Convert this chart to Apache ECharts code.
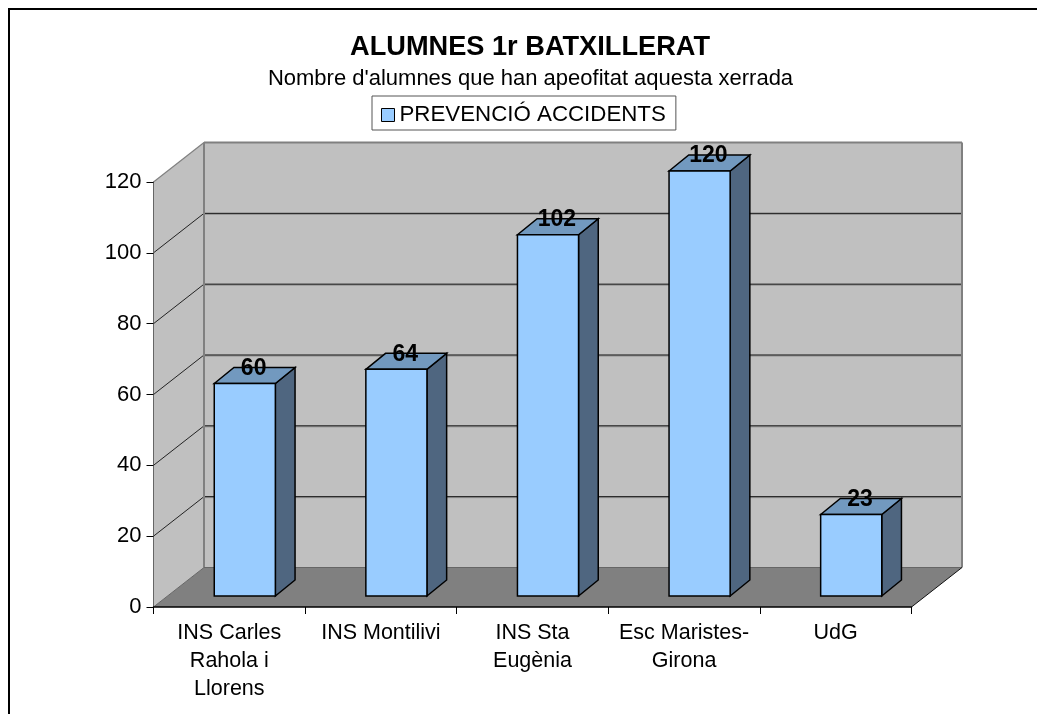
<!DOCTYPE html>
<html>
<head>
<meta charset="utf-8">
<style>html,body{margin:0;padding:0;background:#fff;overflow:hidden}#c{position:absolute;left:0;top:0;width:1037px;height:714px}
#f{position:absolute;left:8px;top:8px;width:1040px;height:730px;border:2px solid #000;box-sizing:border-box}</style>
<script src="https://cdn.jsdelivr.net/npm/echarts@6/dist/echarts.min.js"></script>
</head>
<body>
<div id="f"></div>
<div id="c"></div>
<script>
const titleText = 'ALUMNES 1r BATXILLERAT';
const subtitleText = "Nombre d'alumnes que han apeofitat aquesta xerrada";
const seriesName = 'PREVENCIÓ ACCIDENTS';
const categories = ['INS Carles\nRahola i\nLlorens', 'INS Montilivi', 'INS Sta\nEugènia', 'Esc Maristes-\nGirona', 'UdG'];
const values = [60, 64, 102, 120, 23];
const yTicks = [0, 20, 40, 60, 80, 100, 120];

const FONT = '"Liberation Sans", Arial, sans-serif';
const DEPTH_X = 50.5, DEPTH_Y = 39.5;     // wall depth
const BAR_W = 0.403, BAR_SHIFT_X = 15.5, BAR_SHIFT_Y = 11, BAR_DX = 19.7, BAR_DY = 16;

const chart = echarts.init(document.getElementById('c'), null, {renderer: 'canvas'});

function poly(points, fill, stroke, lw) {
  return {type: 'polygon', shape: {points}, style: {fill, stroke: stroke || null, lineWidth: lw || 0}};
}
function seg(x1, y1, x2, y2, stroke, lw) {
  return {type: 'line', shape: {x1, y1, x2, y2}, style: {stroke, lineWidth: lw || 1, fill: null}};
}

function renderWalls(params, api) {
  const cs = params.coordSys;
  const x0 = cs.x, x1 = cs.x + cs.width;
  const top = api.coord([0, yTicks[yTicks.length - 1]])[1];
  const bot = api.coord([0, 0])[1];
  const bx0 = x0 + DEPTH_X, bx1 = x1 + DEPTH_X, bTop = top - DEPTH_Y, bBot = bot - DEPTH_Y;
  const kids = [
    poly([[x0, bot], [x0, top], [bx0, bTop], [bx0, bBot]], '#c0c0c0'),
    poly([[bx0, bTop], [bx1, bTop], [bx1, bBot], [bx0, bBot]], '#c0c0c0'),
    poly([[x0, bot], [x1, bot], [bx1, bBot], [bx0, bBot]], '#808080')
  ];
  yTicks.slice(1, -1).forEach(t => {
    const y = api.coord([0, t])[1];
    kids.push(seg(bx0, y - DEPTH_Y + 1, bx1, y - DEPTH_Y + 1, '#909090', 1));
    kids.push(seg(bx0, y - DEPTH_Y, bx1, y - DEPTH_Y, '#111', 1));
    kids.push(seg(x0, y, bx0, y - DEPTH_Y, '#111', 0.9));
  });
  kids.push(seg(x0, top, bx0, bTop, '#808080', 1.2));
  kids.push(seg(bx0, bTop, bx1, bTop, '#808080', 2));
  kids.push(seg(bx1, bTop, bx1, bBot, '#808080', 2));
  kids.push(seg(bx0, bTop, bx0, bBot, '#808080', 2));
  kids.push(seg(bx0, bBot, bx1, bBot, '#666', 1.2));
  kids.push(seg(x0, bot, bx0, bBot, '#666', 1));
  kids.push(seg(x1, bot, bx1, bBot, '#111', 1));
  return {type: 'group', children: kids};
}

function renderBar(params, api) {
  const i = api.value(0), v = api.value(1);
  const band = api.size([1, 0])[0];
  const w = band * BAR_W;
  const c = api.coord([i, v]);
  const base = api.coord([i, 0]);
  const l = c[0] + BAR_SHIFT_X - w / 2, r = l + w;
  const t = c[1] - BAR_SHIFT_Y, b = base[1] - BAR_SHIFT_Y;
  const K = '#000';
  return {type: 'group', children: [
    poly([[r, t], [r + BAR_DX, t - BAR_DY], [r + BAR_DX, b - BAR_DY], [r, b]], '#4f6680', K, 1.5),
    poly([[l, t], [l + BAR_DX, t - BAR_DY], [r + BAR_DX, t - BAR_DY], [r, t]], '#7299bf', K, 1.5),
    poly([[l, t], [r, t], [r, b], [l, b]], '#99ccff', K, 1.5),
    {type: 'text', x: (l + r + BAR_DX) / 2 - 1, y: t - BAR_DY + 1, style: {
      text: String(v), fill: '#000', font: 'bold 23px ' + FONT, align: 'center', verticalAlign: 'middle'
    }}
  ]};
}

chart.setOption({
  animation: false,
  backgroundColor: 'transparent',
  textStyle: {fontFamily: FONT},
  title: [
    {text: titleText, left: 525, top: 29, textAlign: 'center',
     textStyle: {fontFamily: FONT, fontWeight: 'bold', fontSize: 27.2, color: '#000'}},
    {text: subtitleText, left: 525.5, top: 63, textAlign: 'center',
     textStyle: {fontFamily: FONT, fontWeight: 'normal', fontSize: 22, color: '#000'}}
  ],
  legend: {
    data: [{name: seriesName, icon: 'rect'}],
    left: 372, top: 96, padding: [8, 10, 4, 9],
    itemWidth: 13, itemHeight: 13, itemGap: 0,
    backgroundColor: '#fff', borderColor: '#555', borderWidth: 1, borderRadius: 0,
    itemStyle: {color: '#99ccff', borderColor: '#000', borderWidth: 1},
    textStyle: {fontFamily: FONT, fontSize: 22.3, color: '#000'}
  },
  grid: {left: 153.5, top: 182, width: 758, height: 425, containLabel: false},
  xAxis: {
    type: 'category', data: categories, boundaryGap: true, z: 5,
    axisLine: {lineStyle: {color: '#000', width: 1.5}},
    axisTick: {show: true, length: 7, alignWithLabel: false, lineStyle: {color: '#000', width: 1}},
    axisLabel: {interval: 0, margin: 12, fontFamily: FONT, fontSize: 21.5, lineHeight: 28, color: '#000', align: 'center', verticalAlign: 'top'},
    splitLine: {show: false}
  },
  yAxis: {
    type: 'value', min: 0, max: 120, interval: 20, z: 5,
    axisLine: {show: true, lineStyle: {color: '#666', width: 1}},
    axisTick: {show: true, length: 7, lineStyle: {color: '#000', width: 1}},
    axisLabel: {margin: 12, fontFamily: FONT, fontSize: 22, color: '#000'},
    splitLine: {show: false}
  },
  series: [
    {type: 'custom', name: 'walls', silent: true, z: 1, coordinateSystem: 'cartesian2d',
     renderItem: renderWalls, data: [[0, 0]], clip: false, encode: {x: 0, y: 1}},
    {type: 'custom', name: seriesName, z: 3, coordinateSystem: 'cartesian2d',
     itemStyle: {color: '#99ccff'},
     renderItem: renderBar, data: values.map((v, i) => [i, v]), clip: false, encode: {x: 0, y: 1}}
  ]
});
</script>
</body>
</html>
